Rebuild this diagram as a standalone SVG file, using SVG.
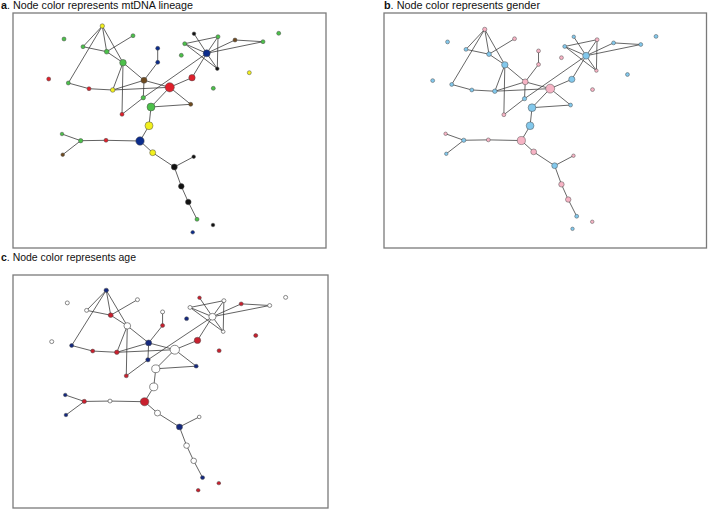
<svg xmlns="http://www.w3.org/2000/svg" xmlns:xlink="http://www.w3.org/1999/xlink" width="708" height="510" viewBox="0 0 708 510">
<style>
.frame{fill:#fff;stroke:#7a7a7a;stroke-width:1.3}
.e{fill:none;stroke:#3a3a3a;stroke-width:0.8}
circle{stroke:#4a4a4a;stroke-width:0.5}
.gr{fill:#4cc04a}.rd{fill:#e0202b}.ye{fill:#f2f01e}.nv{fill:#0b2c8c}.br{fill:#6e4a1f}.bk{fill:#111}
.pk{fill:#f6b3c4}.lb{fill:#82c8ec}
.wh{fill:#fff;stroke:#555;stroke-width:0.7}.cr{fill:#c8202e}.cn{fill:#14287e}
.lbl{font-family:"Liberation Sans",Arial,sans-serif;font-size:10.5px;fill:#111}
.lbl .b{font-weight:bold}
</style>
<defs>
<path id="edges" class="e" d="M102.3 26L83 46.7M102.3 26L106.7 51.7M102.3 26L123 62.7M102.3 26L68.3 83M83 46.7L106.7 51.7M106.7 51.7L133 35.7M106.7 51.7L123 62.7M123 62.7L144 80.3M123 62.7L112.7 90M123 62.7L122 114.3M68.3 83L89 88.7M89 88.7L112.7 90M112.7 90L144 80.3M112.7 90L169.7 87.3M144 80.3L169.7 87.3M144 80.3L143.3 97.7M144 80.3L157.7 62.3M157.7 62.3L157.7 48.3M143.3 97.7L122 114.3M169.7 87.3L151 107M151 107L190.7 104.3M169.7 87.3L190.7 104.3M169.7 87.3L192 77.7M192 77.7L206.7 53.3M143.3 97.7L206.7 53.3M151 107L149 125.7M149 125.7L140 141M140 141L106 140.3M106 140.3L80.7 140.7M80.7 140.7L62 134M80.7 140.7L62.7 154.7M140 141L152.7 152.7M152.7 152.7L174.3 167M174.3 167L193.7 156.7M174.3 167L181.3 186.3M181.3 186.3L188.3 202M188.3 202L197 219.3M194 33.7L206.7 53.3M184.7 43.7L218 36.7M184.7 43.7L206.7 53.3M184.7 43.7L217.3 68.7M218 36.7L206.7 53.3M218 36.7L217.3 68.7M206.7 53.3L217.3 68.7M206.7 53.3L235 40M206.7 53.3L263 41.7M235 40L263 41.7"/>
</defs>
<rect width="708" height="510" fill="#fff"/>

<text class="lbl" x="1" y="8.5" textLength="192" lengthAdjust="spacingAndGlyphs"><tspan class="b">a</tspan>. Node color represents mtDNA lineage</text>
<text class="lbl" x="384" y="8.5" textLength="156" lengthAdjust="spacingAndGlyphs"><tspan class="b">b</tspan>. Node color represents gender</text>
<text class="lbl" x="1" y="261" textLength="135" lengthAdjust="spacingAndGlyphs"><tspan class="b">c</tspan>. Node color represents age</text>

<rect class="frame" x="13" y="13" width="313" height="235"/>
<rect class="frame" x="384" y="13" width="322.5" height="235"/>
<rect class="frame" x="13" y="275" width="315" height="233"/>

<!-- Panel a -->
<g id="panel-a">
<g id="a-connectors"><use xlink:href="#edges"/></g>
<g id="a-n1"><circle class="ye" cx="102.3" cy="26" r="2.2"/></g>
<g id="a-n2"><circle class="gr" cx="64" cy="39" r="2"/></g>
<g id="a-n3"><circle class="gr" cx="83" cy="46.7" r="2"/></g>
<g id="a-n4"><circle class="gr" cx="106.7" cy="51.7" r="2.4"/></g>
<g id="a-n5"><circle class="gr" cx="133" cy="35.7" r="2"/></g>
<g id="a-n6"><circle class="nv" cx="157.7" cy="48.3" r="2"/></g>
<g id="a-n7"><circle class="nv" cx="157.7" cy="62.3" r="2"/></g>
<g id="a-n8"><circle class="gr" cx="123" cy="62.7" r="3.3"/></g>
<g id="a-n9"><circle class="rd" cx="48.7" cy="79" r="2"/></g>
<g id="a-n10"><circle class="gr" cx="68.3" cy="83" r="2"/></g>
<g id="a-n11"><circle class="rd" cx="89" cy="88.7" r="2"/></g>
<g id="a-n12"><circle class="ye" cx="112.7" cy="90" r="2.3"/></g>
<g id="a-n13"><circle class="br" cx="144" cy="80.3" r="3"/></g>
<g id="a-n14"><circle class="rd" cx="169.7" cy="87.3" r="4.6"/></g>
<g id="a-n15"><circle class="gr" cx="143.3" cy="97.7" r="2.2"/></g>
<g id="a-n16"><circle class="gr" cx="151" cy="107" r="4"/></g>
<g id="a-n17"><circle class="rd" cx="122" cy="114.3" r="2"/></g>
<g id="a-n18"><circle class="ye" cx="149" cy="125.7" r="4"/></g>
<g id="a-n19"><circle class="nv" cx="140" cy="141" r="4.2"/></g>
<g id="a-n20"><circle class="gr" cx="62" cy="134" r="1.8"/></g>
<g id="a-n21"><circle class="gr" cx="80.7" cy="140.7" r="2.2"/></g>
<g id="a-n22"><circle class="rd" cx="106" cy="140.3" r="2"/></g>
<g id="a-n23"><circle class="br" cx="62.7" cy="154.7" r="1.8"/></g>
<g id="a-n24"><circle class="ye" cx="152.7" cy="152.7" r="3"/></g>
<g id="a-n25"><circle class="bk" cx="174.3" cy="167" r="3"/></g>
<g id="a-n26"><circle class="bk" cx="193.7" cy="156.7" r="1.8"/></g>
<g id="a-n27"><circle class="bk" cx="181.3" cy="186.3" r="2.8"/></g>
<g id="a-n28"><circle class="bk" cx="188.3" cy="202" r="2.8"/></g>
<g id="a-n29"><circle class="gr" cx="197" cy="219.3" r="2"/></g>
<g id="a-n30"><circle class="bk" cx="213" cy="225" r="1.8"/></g>
<g id="a-n31"><circle class="nv" cx="192.7" cy="232.3" r="1.8"/></g>
<g id="a-n32"><circle class="bk" cx="194" cy="33.7" r="1.8"/></g>
<g id="a-n33"><circle class="gr" cx="218" cy="36.7" r="2"/></g>
<g id="a-n34"><circle class="br" cx="235" cy="40" r="2"/></g>
<g id="a-n35"><circle class="gr" cx="263" cy="41.7" r="2"/></g>
<g id="a-n36"><circle class="gr" cx="278.7" cy="33.3" r="2"/></g>
<g id="a-n37"><circle class="gr" cx="184.7" cy="43.7" r="2"/></g>
<g id="a-n38"><circle class="gr" cx="181.3" cy="55.3" r="2"/></g>
<g id="a-n39"><circle class="nv" cx="206.7" cy="53.3" r="3.5"/></g>
<g id="a-n40"><circle class="bk" cx="217.3" cy="68.7" r="1.8"/></g>
<g id="a-n41"><circle class="ye" cx="249.3" cy="72.7" r="2"/></g>
<g id="a-n42"><circle class="rd" cx="192" cy="77.7" r="3.2"/></g>
<g id="a-n43"><circle class="gr" cx="213.3" cy="88.3" r="2"/></g>
<g id="a-n44"><circle class="br" cx="190.7" cy="104.3" r="2"/></g>
</g>

<!-- Panel b -->
<g id="panel-b" transform="matrix(0.971 0 0 0.967 385.4 4.2)">
<g id="b-connectors"><use xlink:href="#edges"/></g>
<g id="b-n1"><circle class="pk" cx="102.3" cy="26" r="2.2"/></g>
<g id="b-n2"><circle class="lb" cx="64" cy="39" r="2"/></g>
<g id="b-n3"><circle class="lb" cx="83" cy="46.7" r="2"/></g>
<g id="b-n4"><circle class="lb" cx="106.7" cy="51.7" r="2.4"/></g>
<g id="b-n5"><circle class="pk" cx="133" cy="35.7" r="2"/></g>
<g id="b-n6"><circle class="pk" cx="157.7" cy="48.3" r="2"/></g>
<g id="b-n7"><circle class="pk" cx="157.7" cy="62.3" r="2"/></g>
<g id="b-n8"><circle class="lb" cx="123" cy="62.7" r="3.3"/></g>
<g id="b-n9"><circle class="lb" cx="48.7" cy="79" r="2"/></g>
<g id="b-n10"><circle class="lb" cx="68.3" cy="83" r="2"/></g>
<g id="b-n11"><circle class="lb" cx="89" cy="88.7" r="2"/></g>
<g id="b-n12"><circle class="lb" cx="112.7" cy="90" r="2.3"/></g>
<g id="b-n13"><circle class="pk" cx="144" cy="80.3" r="3"/></g>
<g id="b-n14"><circle class="pk" cx="169.7" cy="87.3" r="4.6"/></g>
<g id="b-n15"><circle class="lb" cx="143.3" cy="97.7" r="2.2"/></g>
<g id="b-n16"><circle class="lb" cx="151" cy="107" r="4"/></g>
<g id="b-n17"><circle class="pk" cx="122" cy="114.3" r="2"/></g>
<g id="b-n18"><circle class="lb" cx="149" cy="125.7" r="4"/></g>
<g id="b-n19"><circle class="pk" cx="140" cy="141" r="4.2"/></g>
<g id="b-n20"><circle class="pk" cx="62" cy="134" r="1.8"/></g>
<g id="b-n21"><circle class="lb" cx="80.7" cy="140.7" r="2.2"/></g>
<g id="b-n22"><circle class="pk" cx="106" cy="140.3" r="2"/></g>
<g id="b-n23"><circle class="lb" cx="62.7" cy="154.7" r="1.8"/></g>
<g id="b-n24"><circle class="pk" cx="152.7" cy="152.7" r="3"/></g>
<g id="b-n25"><circle class="lb" cx="174.3" cy="167" r="3"/></g>
<g id="b-n26"><circle class="pk" cx="193.7" cy="156.7" r="1.8"/></g>
<g id="b-n27"><circle class="pk" cx="181.3" cy="186.3" r="2.8"/></g>
<g id="b-n28"><circle class="pk" cx="188.3" cy="202" r="2.8"/></g>
<g id="b-n29"><circle class="lb" cx="197" cy="219.3" r="2"/></g>
<g id="b-n30"><circle class="pk" cx="213" cy="225" r="1.8"/></g>
<g id="b-n31"><circle class="lb" cx="192.7" cy="232.3" r="1.8"/></g>
<g id="b-n32"><circle class="lb" cx="194" cy="33.7" r="1.8"/></g>
<g id="b-n33"><circle class="pk" cx="218" cy="36.7" r="2"/></g>
<g id="b-n34"><circle class="lb" cx="235" cy="40" r="2"/></g>
<g id="b-n35"><circle class="lb" cx="263" cy="41.7" r="2"/></g>
<g id="b-n36"><circle class="lb" cx="278.7" cy="33.3" r="2"/></g>
<g id="b-n37"><circle class="lb" cx="184.7" cy="43.7" r="2"/></g>
<g id="b-n38"><circle class="pk" cx="181.3" cy="55.3" r="2"/></g>
<g id="b-n39"><circle class="lb" cx="206.7" cy="53.3" r="3.5"/></g>
<g id="b-n40"><circle class="pk" cx="217.3" cy="68.7" r="1.8"/></g>
<g id="b-n41"><circle class="lb" cx="249.3" cy="72.7" r="2"/></g>
<g id="b-n42"><circle class="lb" cx="192" cy="77.7" r="3.2"/></g>
<g id="b-n43"><circle class="pk" cx="213.3" cy="88.3" r="2"/></g>
<g id="b-n44"><circle class="lb" cx="190.7" cy="104.3" r="2"/></g>
</g>

<!-- Panel c -->
<g id="panel-c" transform="matrix(1.017 0 0 0.969 2.2 265.1)">
<g id="c-connectors"><use xlink:href="#edges"/></g>
<g id="c-n1"><circle class="cn" cx="102.3" cy="26" r="2.2"/></g>
<g id="c-n2"><circle class="wh" cx="64" cy="39" r="2"/></g>
<g id="c-n3"><circle class="wh" cx="83" cy="46.7" r="2"/></g>
<g id="c-n4"><circle class="cr" cx="106.7" cy="51.7" r="2.4"/></g>
<g id="c-n5"><circle class="wh" cx="133" cy="35.7" r="2"/></g>
<g id="c-n6"><circle class="wh" cx="157.7" cy="48.3" r="2"/></g>
<g id="c-n7"><circle class="cr" cx="157.7" cy="62.3" r="2"/></g>
<g id="c-n8"><circle class="wh" cx="123" cy="62.7" r="3.3"/></g>
<g id="c-n9"><circle class="wh" cx="48.7" cy="79" r="2"/></g>
<g id="c-n10"><circle class="cn" cx="68.3" cy="83" r="2"/></g>
<g id="c-n11"><circle class="cr" cx="89" cy="88.7" r="2"/></g>
<g id="c-n12"><circle class="cr" cx="112.7" cy="90" r="2.3"/></g>
<g id="c-n13"><circle class="cn" cx="144" cy="80.3" r="3"/></g>
<g id="c-n14"><circle class="wh" cx="169.7" cy="87.3" r="4.6"/></g>
<g id="c-n15"><circle class="cn" cx="143.3" cy="97.7" r="2.2"/></g>
<g id="c-n16"><circle class="wh" cx="151" cy="107" r="4"/></g>
<g id="c-n17"><circle class="cr" cx="122" cy="114.3" r="2"/></g>
<g id="c-n18"><circle class="wh" cx="149" cy="125.7" r="4"/></g>
<g id="c-n19"><circle class="cr" cx="140" cy="141" r="4.2"/></g>
<g id="c-n20"><circle class="cn" cx="62" cy="134" r="1.8"/></g>
<g id="c-n21"><circle class="cr" cx="80.7" cy="140.7" r="2.2"/></g>
<g id="c-n22"><circle class="wh" cx="106" cy="140.3" r="2"/></g>
<g id="c-n23"><circle class="cn" cx="62.7" cy="154.7" r="1.8"/></g>
<g id="c-n24"><circle class="wh" cx="152.7" cy="152.7" r="3"/></g>
<g id="c-n25"><circle class="cn" cx="174.3" cy="167" r="3"/></g>
<g id="c-n26"><circle class="wh" cx="193.7" cy="156.7" r="1.8"/></g>
<g id="c-n27"><circle class="wh" cx="181.3" cy="186.3" r="2.8"/></g>
<g id="c-n28"><circle class="wh" cx="188.3" cy="202" r="2.8"/></g>
<g id="c-n29"><circle class="cn" cx="197" cy="219.3" r="2"/></g>
<g id="c-n30"><circle class="cr" cx="213" cy="225" r="1.8"/></g>
<g id="c-n31"><circle class="cr" cx="192.7" cy="232.3" r="1.8"/></g>
<g id="c-n32"><circle class="cr" cx="194" cy="33.7" r="1.8"/></g>
<g id="c-n33"><circle class="wh" cx="218" cy="36.7" r="2"/></g>
<g id="c-n34"><circle class="cr" cx="235" cy="40" r="2"/></g>
<g id="c-n35"><circle class="wh" cx="263" cy="41.7" r="2"/></g>
<g id="c-n36"><circle class="wh" cx="278.7" cy="33.3" r="2"/></g>
<g id="c-n37"><circle class="wh" cx="184.7" cy="43.7" r="2"/></g>
<g id="c-n38"><circle class="cn" cx="181.3" cy="55.3" r="2"/></g>
<g id="c-n39"><circle class="wh" cx="206.7" cy="53.3" r="3.5"/></g>
<g id="c-n40"><circle class="wh" cx="217.3" cy="68.7" r="1.8"/></g>
<g id="c-n41"><circle class="cr" cx="249.3" cy="72.7" r="2"/></g>
<g id="c-n42"><circle class="cr" cx="192" cy="77.7" r="3.2"/></g>
<g id="c-n43"><circle class="cr" cx="213.3" cy="88.3" r="2"/></g>
<g id="c-n44"><circle class="cn" cx="190.7" cy="104.3" r="2"/></g>
</g>
</svg>
